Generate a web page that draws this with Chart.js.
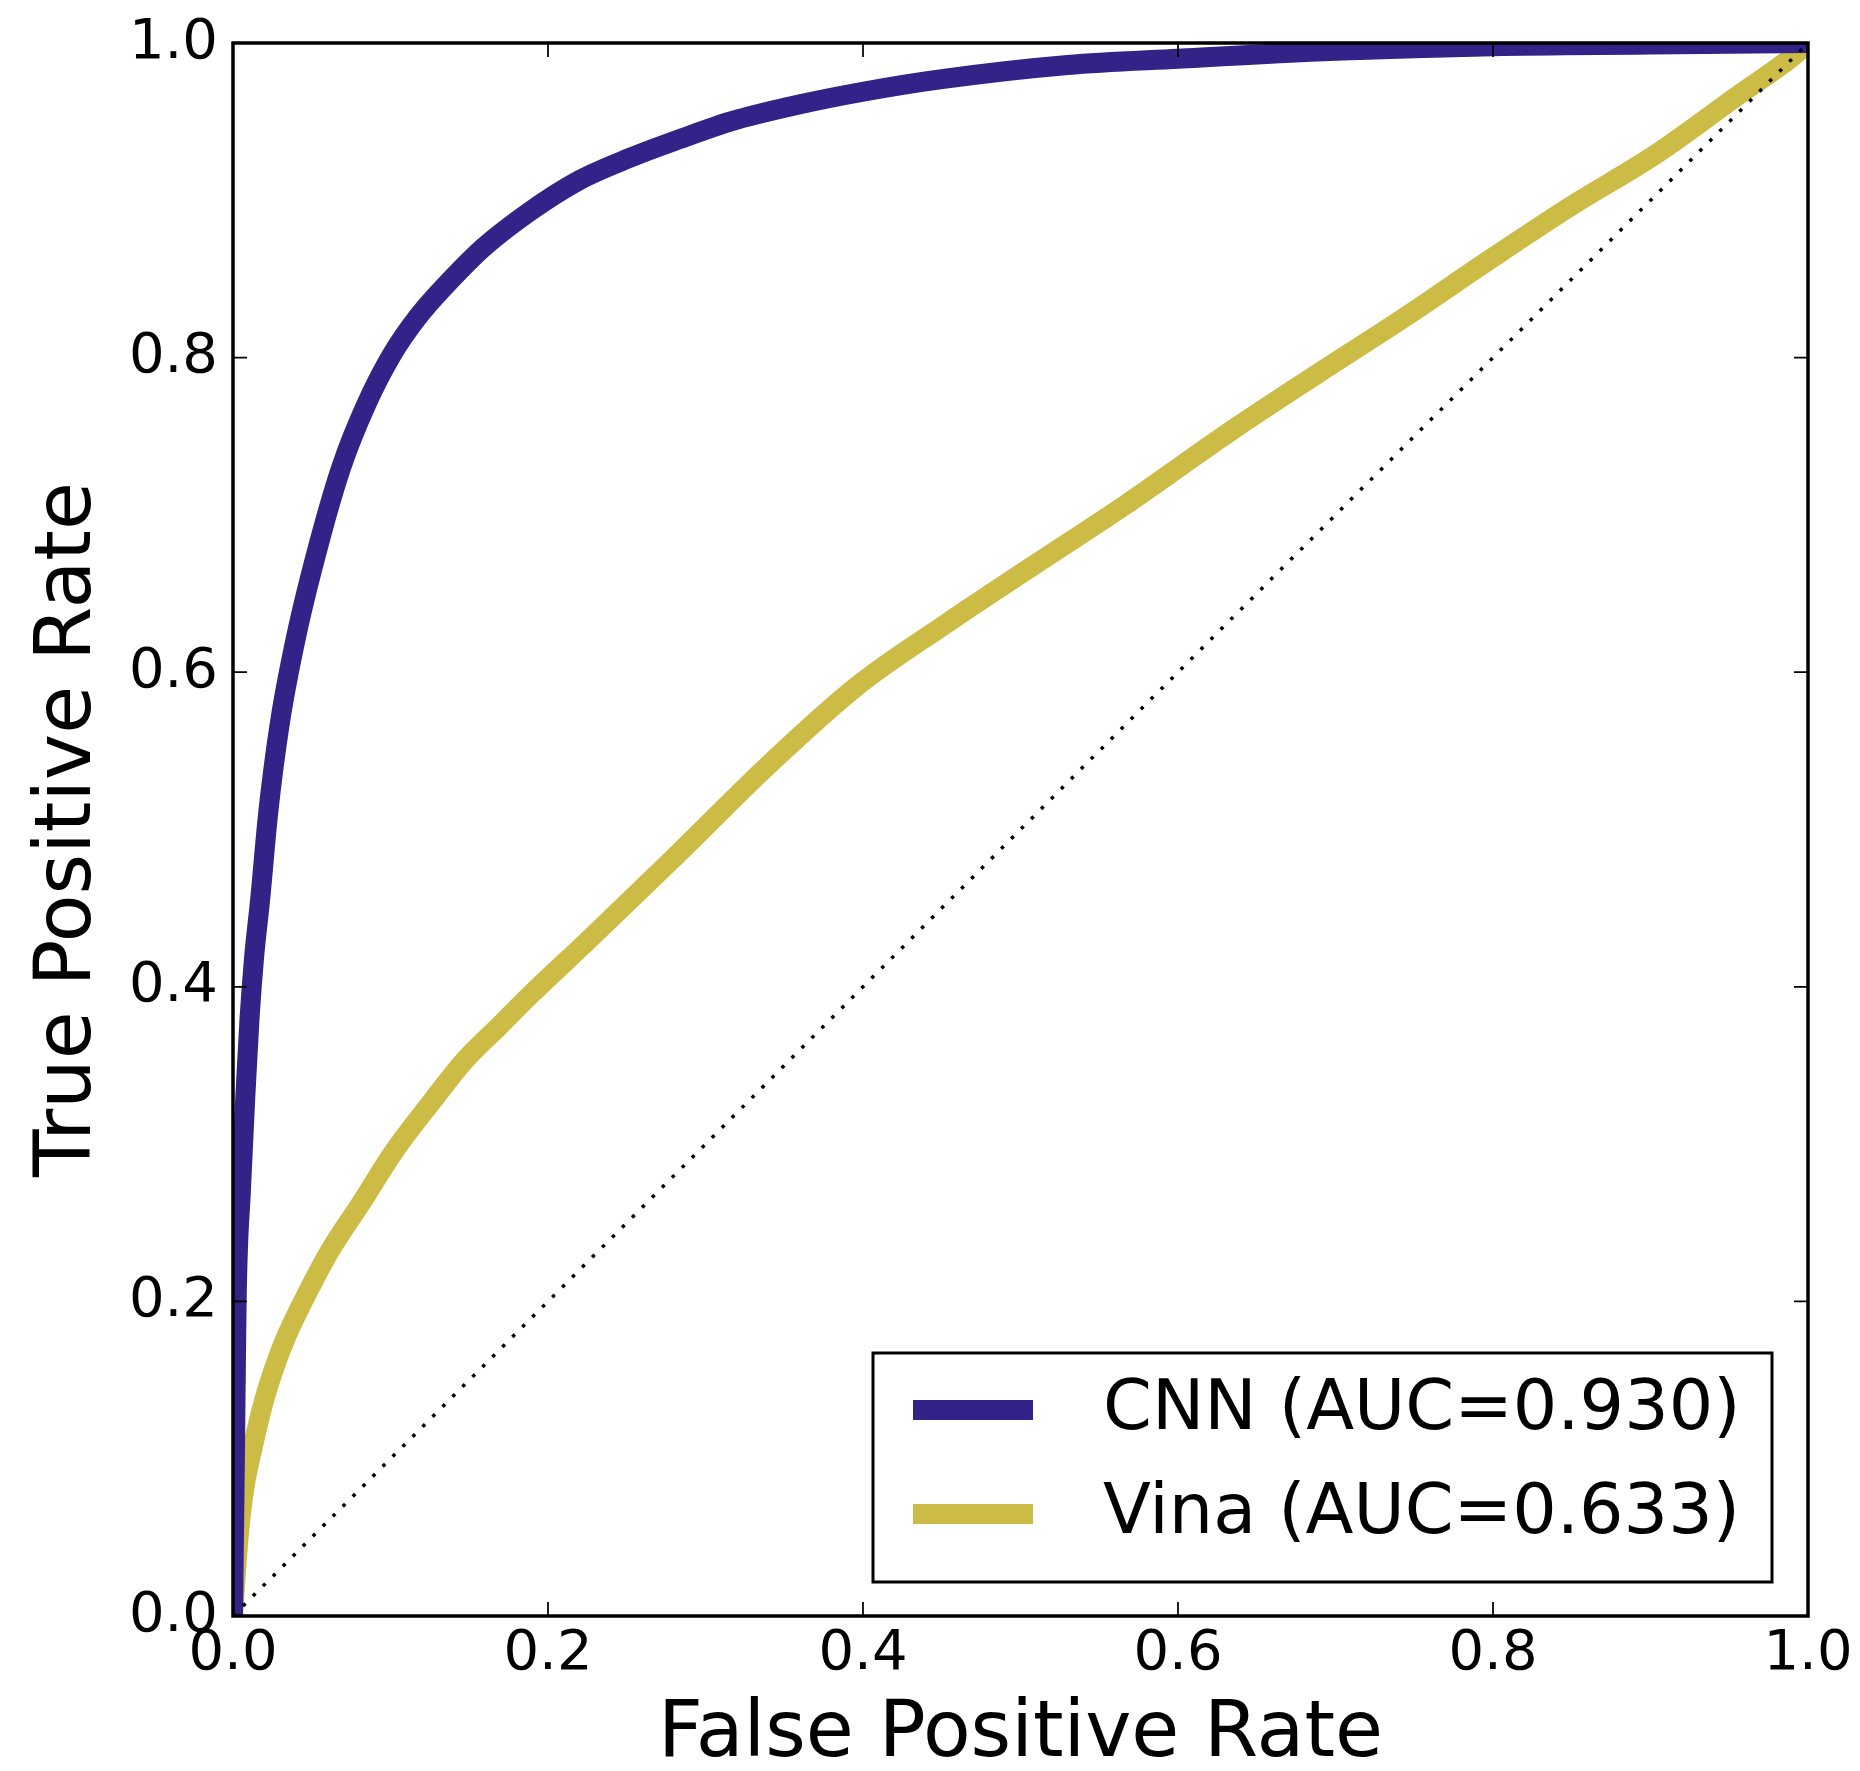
<!DOCTYPE html>
<html>
<head>
<meta charset="utf-8">
<title>ROC curves</title>
<script src="https://cdn.jsdelivr.net/npm/chart.js@4.4.1/dist/chart.umd.min.js"></script>
<style>
  html, body { margin: 0; padding: 0; background: #ffffff; }
  canvas { display: block; }
</style>
</head>
<body>
<canvas id="rocChart" width="1860" height="1771"></canvas>
<script>
// ROC points for each scoring method
const cnnFpr = [0, 0.0012, 0.0023, 0.005, 0.0078, 0.0105, 0.0135, 0.0171, 0.0224, 0.0298, 0.0404, 0.0557,
  0.0690, 0.0850, 0.1010, 0.1175, 0.1360, 0.159, 0.1886, 0.2203, 0.252, 0.284, 0.3156, 0.36, 0.4,
  0.45, 0.53, 0.6, 0.7, 0.8, 0.9, 1];
const cnnTpr = [0, 0.1, 0.2, 0.27, 0.33, 0.38, 0.42, 0.454, 0.511, 0.568, 0.624, 0.686,
  0.731, 0.771, 0.802, 0.826, 0.847, 0.87, 0.893, 0.913, 0.927, 0.939, 0.95, 0.961, 0.969,
  0.977, 0.986, 0.99, 0.995, 0.998, 0.999, 1];

const vinaFpr = [0, 0.002, 0.004, 0.007, 0.012, 0.02, 0.027, 0.034, 0.047, 0.062, 0.081, 0.102, 0.127, 0.146,
  0.17, 0.189, 0.226, 0.283, 0.34, 0.396, 0.453, 0.51, 0.566, 0.636, 0.689, 0.743, 0.796,
  0.849, 0.903, 0.956, 0.991, 1];
const vinaTpr = [0, 0.03, 0.055, 0.08, 0.105, 0.138, 0.16, 0.178, 0.205, 0.233, 0.262, 0.295, 0.328, 0.352,
  0.376, 0.395, 0.43, 0.485, 0.541, 0.591, 0.631, 0.669, 0.706, 0.755, 0.79, 0.825, 0.861,
  0.896, 0.929, 0.967, 0.992, 1];

// chance line
const chanceFpr = [0, 1];
const chanceTpr = [0, 1];

const seriesLabels = ["CNN (AUC=0.930)", "Vina (AUC=0.633)"];
const tickValues = [0, 0.2, 0.4, 0.6, 0.8, 1.0];

const cnnColor = "#332288";
const vinaColor = "#CCBB44";

function toPoints(xs, ys) {
  return xs.map((x, i) => ({ x: x, y: ys[i] }));
}

Chart.defaults.font.family = "'DejaVu Sans', sans-serif";
Chart.defaults.color = "#000000";

// frame, inward ticks on all four sides, and the boxed legend
const framePlugin = {
  id: "frameAndLegend",
  afterDatasetsDraw(chart) {
    const ctx = chart.ctx;
    const area = chart.chartArea;
    const xs = chart.scales.x;
    const ys = chart.scales.y;
    ctx.save();

    // tick marks
    ctx.strokeStyle = "#000000";
    ctx.lineWidth = 1.75;
    const tickLen = 14;
    ctx.beginPath();
    tickValues.forEach((v) => {
      const px = xs.getPixelForValue(v);
      ctx.moveTo(px, area.bottom);
      ctx.lineTo(px, area.bottom - tickLen);
      ctx.moveTo(px, area.top);
      ctx.lineTo(px, area.top + tickLen);
      const py = ys.getPixelForValue(v);
      ctx.moveTo(area.left, py);
      ctx.lineTo(area.left + tickLen, py);
      ctx.moveTo(area.right, py);
      ctx.lineTo(area.right - tickLen, py);
    });
    ctx.stroke();

    // axes box
    ctx.lineWidth = 3.5;
    ctx.strokeRect(area.left, area.top, area.right - area.left, area.bottom - area.top);

    // legend box in lower right
    const boxRight = area.right - 36;
    const boxBottom = area.bottom - 34;
    const boxW = 899;
    const boxH = 229;
    const boxLeft = boxRight - boxW;
    const boxTop = boxBottom - boxH;
    ctx.fillStyle = "#ffffff";
    ctx.fillRect(boxLeft, boxTop, boxW, boxH);
    ctx.lineWidth = 3;
    ctx.strokeStyle = "#000000";
    ctx.strokeRect(boxLeft, boxTop, boxW, boxH);

    const rows = chart.data.datasets.filter((d) => d.showInLegend);
    ctx.font = "70px 'DejaVu Sans'";
    ctx.textAlign = "left";
    ctx.textBaseline = "middle";
    rows.forEach((d, i) => {
      const cy = boxTop + 57 + i * 104;
      ctx.strokeStyle = d.borderColor;
      ctx.lineWidth = 20;
      ctx.lineCap = "butt";
      ctx.beginPath();
      ctx.moveTo(boxLeft + 40, cy);
      ctx.lineTo(boxLeft + 160, cy);
      ctx.stroke();
      ctx.fillStyle = "#000000";
      ctx.fillText(d.label, boxLeft + 230, cy + 1);
    });
    ctx.restore();
  },
};

const ctx = document.getElementById("rocChart");
new Chart(ctx, {
  type: "line",
  data: {
    datasets: [
      {
        label: "chance",
        data: toPoints(chanceFpr, chanceTpr),
        borderColor: "#000000",
        borderWidth: 3.5,
        borderDash: [3.5, 10.6],
        borderCapStyle: "butt",
        pointRadius: 0,
        fill: false,
        showInLegend: false,
      },
      {
        label: seriesLabels[0],
        data: toPoints(cnnFpr, cnnTpr),
        borderColor: cnnColor,
        borderWidth: 20,
        cubicInterpolationMode: "monotone",
        pointRadius: 0,
        fill: false,
        showInLegend: true,
      },
      {
        label: seriesLabels[1],
        data: toPoints(vinaFpr, vinaTpr),
        borderColor: vinaColor,
        borderWidth: 20,
        cubicInterpolationMode: "monotone",
        pointRadius: 0,
        fill: false,
        showInLegend: true,
      },
    ],
  },
  options: {
    responsive: false,
    animation: false,
    devicePixelRatio: 1,
    layout: {
      padding: { left: 0, top: 43, right: 52, bottom: 0 },
    },
    plugins: {
      legend: { display: false },
      tooltip: { enabled: false },
    },
    scales: {
      x: {
        type: "linear",
        position: "bottom",
        min: 0,
        max: 1,
        afterFit: (scale) => {
          scale.height = 155;
        },
        afterBuildTicks: (scale) => {
          scale.ticks = tickValues.map((v) => ({ value: v }));
        },
        ticks: {
          callback: (v) => Number(v).toFixed(1),
          font: { size: 56 },
          color: "#000000",
          padding: 5,
          maxRotation: 0,
          autoSkip: false,
        },
        grid: { display: false, drawTicks: false },
        border: { display: false },
        title: {
          display: true,
          text: "False Positive Rate",
          color: "#000000",
          font: { size: 78, lineHeight: 1 },
          padding: { top: 0, bottom: -4 },
        },
      },
      y: {
        type: "linear",
        position: "left",
        min: 0,
        max: 1,
        afterFit: (scale) => {
          scale.width = 233;
        },
        afterBuildTicks: (scale) => {
          scale.ticks = tickValues.map((v) => ({ value: v }));
        },
        ticks: {
          callback: (v) => Number(v).toFixed(1),
          font: { size: 56, lineHeight: 1 },
          color: "#000000",
          padding: 15,
          autoSkip: false,
        },
        grid: { display: false, drawTicks: false },
        border: { display: false },
        title: {
          display: true,
          text: "True Positive Rate",
          color: "#000000",
          font: { size: 78, lineHeight: 1 },
          padding: { top: 31, bottom: 0 },
        },
      },
    },
  },
  plugins: [framePlugin],
});
</script>
</body>
</html>
